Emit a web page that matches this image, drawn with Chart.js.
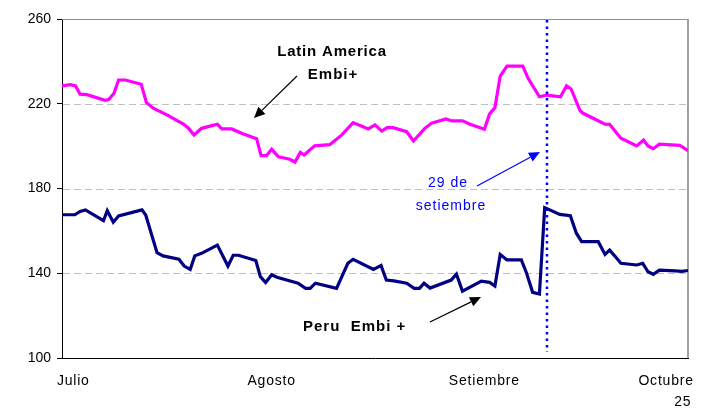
<!DOCTYPE html>
<html><head><meta charset="utf-8">
<script src="https://cdn.jsdelivr.net/npm/chart.js@4"></script>
<style>html,body{margin:0;padding:0;background:#fff;}</style>
</head><body>
<canvas id="c" width="706" height="409"></canvas>
<script>
// x = trading-day position from start of July
const latinX = [0,1.1,1.8,2.4,3.3,5.7,6.2,6.9,7.5,8.4,10.5,11.2,12.1,14.1,16.1,16.7,17.5,18.5,20.6,21.2,22.5,23.8,25.8,26.4,27.1,27.8,28.7,30.2,30.9,31.6,32.1,33.5,35.5,37.1,38.6,40.6,41.5,42.4,43.1,43.9,45.7,46.6,48.1,49.0,50.9,51.7,53.1,54.1,56.0,56.7,57.4,58.1,59.0,61.1,61.8,63.3,64.3,66.1,66.9,67.5,68.7,69.1,72.0,72.6,74.1,76.2,77.1,77.7,78.4,79.2,81.9,83];
const latinY = [228.4,229,228.4,224.5,224.3,221.6,222,225,231.2,231.2,229.2,220.5,217.9,214.4,210.4,208.7,205.3,208.4,210.3,208.1,208.1,206.1,203.5,195.5,195.5,198.5,195.0,193.8,192.5,197.1,195.8,200.1,200.7,205.3,211.1,208.1,210,207.1,208.7,208.7,206.8,202.4,208.4,210.8,212.8,211.9,211.9,210.3,208,215.2,218.1,233.1,237.8,237.8,232,223.3,224.1,223.3,228.5,227,216.7,215.5,210.4,210.3,203.7,200.1,202.9,200.1,198.8,200.9,200.4,197.8];
const peruX = [0,1.7,2.4,3.1,5.5,6.0,6.8,7.5,10.6,11.1,12.6,13.4,15.5,16.2,17.0,17.6,18.5,20.6,22.0,22.7,23.4,25.7,26.3,27.0,27.8,28.5,31.3,32.3,32.9,33.6,36.4,37.9,38.6,41.3,42.3,43.0,44.0,45.7,46.7,47.4,48.0,48.8,51.6,52.3,53.1,55.6,56.7,57.4,58.1,59.0,60.9,61.6,62.4,63.3,64.0,66.0,67.4,68.2,68.9,71.1,72.0,72.6,73.3,74.1,76.2,77.0,77.7,78.4,79.2,81.3,82.2,83];
const peruY = [167.6,167.6,169.2,169.9,164.8,169.5,164.1,167.0,169.9,167.5,149.7,148.2,146.6,143.4,141.8,148.2,149.4,153.3,143.4,148.5,148.5,146.0,138.4,135.6,139.3,138.1,135.3,132.9,132.9,135.3,132.9,144.7,146.6,141.8,143.7,136.8,136.4,135.3,132.9,132.9,135.3,133.0,136.8,139.6,131.5,136.3,135.7,134.0,148.9,146.3,146.3,140.0,131.0,130.2,171.0,167.8,167.2,158.9,154.9,154.9,148.9,150.9,148.1,144.7,143.9,144.7,140.7,139.5,141.5,141.1,140.9,141.3];
const monthLabels = ['Julio','Agosto','Setiembre','Octubre'];
const monthPos = [1.5, 27.8, 56.0, 80.1];
const endDayLabel = '25';
const endDayPos = 82.3;
const yTicks = [100,140,180,220,260];
const gridValues = [140,180,220];
const markerX = 64.3; // 29 de setiembre

const FONT = "'Liberation Sans', Arial, sans-serif";

function arrow(ctx, x1, y1, x2, y2, color, head, w){
  const ang = Math.atan2(y2-y1, x2-x1);
  ctx.save();
  ctx.strokeStyle = color; ctx.fillStyle = color; ctx.lineWidth = 1.2;
  const bx = x2 - head*Math.cos(ang), by = y2 - head*Math.sin(ang);
  ctx.beginPath(); ctx.moveTo(x1,y1); ctx.lineTo(bx,by); ctx.stroke();
  ctx.beginPath();
  ctx.moveTo(x2,y2);
  ctx.lineTo(bx + w*Math.sin(ang), by - w*Math.cos(ang));
  ctx.lineTo(bx - w*Math.sin(ang), by + w*Math.cos(ang));
  ctx.closePath(); ctx.fill();
  ctx.restore();
}
function txt(ctx, s, x, y, font, color, align, spacing){
  ctx.save();
  ctx.font = font; ctx.fillStyle = color; ctx.textAlign = align || 'center';
  ctx.textBaseline = 'alphabetic';
  try { ctx.letterSpacing = spacing || '0px'; } catch(e) {}
  ctx.fillText(s, x, y);
  ctx.restore();
}

const deco = {
  id: 'deco',
  beforeDatasetsDraw(chart){
    const {ctx, chartArea:a, scales:{y}} = chart;
    ctx.save();
    ctx.strokeStyle = '#c0c0c0'; ctx.lineWidth = 1; ctx.setLineDash([7,4]);
    gridValues.forEach(v => {
      const py = Math.round(y.getPixelForValue(v)) + 0.5;
      ctx.beginPath(); ctx.moveTo(a.left+1, py); ctx.lineTo(a.right, py); ctx.stroke();
    });
    ctx.setLineDash([]);
    ctx.strokeStyle = '#909090'; ctx.lineWidth = 1;
    ctx.beginPath(); ctx.moveTo(a.left, a.top+0.5); ctx.lineTo(a.right, a.top+0.5); ctx.stroke();
    ctx.strokeStyle = '#a0a0a0'; ctx.lineWidth = 2;
    ctx.beginPath(); ctx.moveTo(a.right, a.top); ctx.lineTo(a.right, a.bottom); ctx.stroke();
    ctx.restore();
  },
  afterDatasetsDraw(chart){
    const {ctx, chartArea:a, scales:{x}} = chart;
    // dotted marker line
    const mx = x.getPixelForValue(markerX);
    ctx.save();
    ctx.strokeStyle = '#0000ff'; ctx.lineWidth = 2.5; ctx.setLineDash([2.5,4]);
    ctx.beginPath(); ctx.moveTo(mx, a.top+1); ctx.lineTo(mx, a.bottom-6); ctx.stroke();
    ctx.restore();
    // x labels
    const lf = "14px " + FONT;
    monthLabels.forEach((m,i) => txt(ctx, m, x.getPixelForValue(monthPos[i]), 385, lf, '#000', 'center', '0.8px'));
    txt(ctx, endDayLabel, x.getPixelForValue(endDayPos), 406, lf, '#000', 'center', '0.8px');
    // annotations
    const bf = "bold 15px " + FONT;
    txt(ctx, 'Latin America', 332, 56, bf, '#000', 'center', '0.8px');
    txt(ctx, 'Embi+', 333, 79, bf, '#000', 'center', '1px');
    arrow(ctx, 297, 76, 254, 118, '#000', 11, 5);
    txt(ctx, 'Peru  Embi +', 303, 331, bf, '#000', 'left', '1px');
    arrow(ctx, 430, 322, 481, 297, '#000', 11, 5);
    const nf = "14px " + FONT;
    txt(ctx, '29 de', 448, 187, nf, '#0000ff', 'center', '1px');
    txt(ctx, 'setiembre', 451, 210, nf, '#0000ff', 'center', '1px');
    arrow(ctx, 477, 186, 540, 152, '#0000ff', 11, 5);
  }
};

const mk = (xs, ys) => xs.map((v,i) => ({x:v, y:ys[i]}));

new Chart(document.getElementById('c'), {
  type: 'line',
  data: {
    datasets: [
      {label:'Latin America Embi+', data: mk(latinX, latinY), borderColor:'#ff00ff', borderWidth:3.2, pointRadius:0, tension:0, fill:false},
      {label:'Peru Embi+', data: mk(peruX, peruY), borderColor:'#000080', borderWidth:3.2, pointRadius:0, tension:0, fill:false}
    ]
  },
  options: {
    responsive:false, animation:false, devicePixelRatio:1,
    layout:{padding:{top:19, right:18, left:0, bottom:0}},
    plugins:{legend:{display:false}, tooltip:{enabled:false}},
    scales:{
      x:{type:'linear', min:0, max:83,
         ticks:{display:false},
         grid:{display:false},
         border:{display:true, color:'#000', width:1},
         afterFit(s){ s.height = 51; }
      },
      y:{min:100, max:260,
         afterBuildTicks(s){ s.ticks = yTicks.map(v => ({value:v})); },
         ticks:{color:'#000', font:{family:FONT, size:14}, padding:6},
         grid:{drawOnChartArea:false, drawTicks:true, tickLength:5, tickColor:'#000', color:'#000'},
         border:{display:true, color:'#000', width:1},
         afterFit(s){ s.width = 62; }
      }
    }
  },
  plugins:[deco]
});
</script>
</body></html>
